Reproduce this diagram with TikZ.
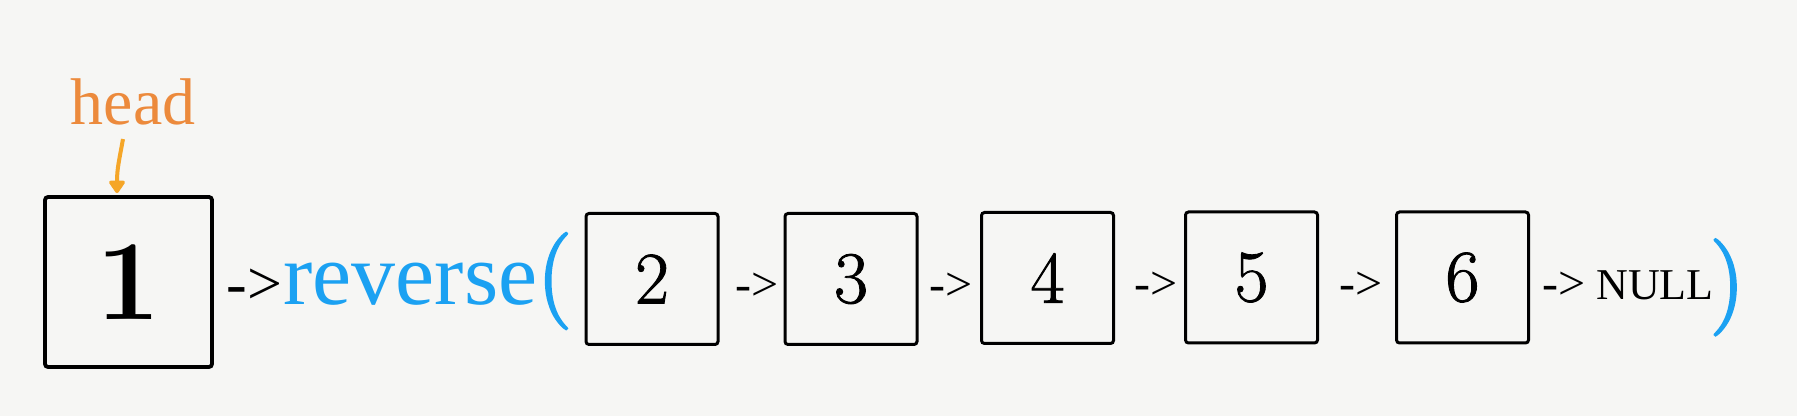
\documentclass[tikz,border=0pt]{standalone}
\usepackage{fontspec}
\newfontfamily\libserif{Liberation Serif}
\newfontfamily\digitfont{Latin Modern Roman}[FakeBold=1.2]
\newfontfamily\parenfont{Latin Modern Roman}[FakeBold=2.5]
\usetikzlibrary{positioning,arrows.meta}
\definecolor{headorange}{HTML}{EC8A3C}
\definecolor{pointerorange}{HTML}{F5A628}
\definecolor{callblue}{HTML}{1BA1F2}
\definecolor{paper}{HTML}{F6F6F4}
\begin{document}
\begin{tikzpicture}[
x=0.5pt,y=-0.5pt,
every node/.style={inner sep=0pt},
listnode/.style={draw,line width=1.5pt,rounded corners=1.5pt,minimum width=66pt,minimum height=65.5pt,font=\digitfont\fontsize{37}{37}\selectfont},
headnode/.style={listnode,line width=1.9pt,minimum width=83.5pt,minimum height=85pt,font=\fontsize{57}{57}\selectfont\bfseries},
nextarrow/.style={font=\libserif\fontsize{24}{24}\selectfont}
]
\fill[paper] (0,0) rectangle (1797,416);
\useasboundingbox (0,0) rectangle (1797,416);
% the head pointer
\node[headnode] (b1) at (128.5,282) {1};
\node[font=\libserif\fontsize{33}{33}\selectfont,text=headorange,anchor=base] (headlabel) at (133,125) {head};
\draw[pointerorange,line width=2pt,-{Triangle[length=7pt,width=9pt,round]}]
    ([xshift=-5pt,yshift=-6.5pt]headlabel.south) .. controls +(-4,22) and +(0,-24) .. ([xshift=-5.75pt,yshift=1pt]b1.north);
% call on the rest of the list
\node[font=\libserif\fontsize{44}{44}\selectfont,text=callblue,anchor=base west] (rev) at (283,305) {reverse{\parenfont\fontsize{48}{48}\selectfont(}};
\node[font=\libserif\fontsize{31}{31}\selectfont,anchor=base east] (a1) at (rev.base west) {->};
\node[listnode] (b2) at (652,279) {2};
\node[nextarrow,right=8pt of b2,yshift=-4pt] (a2) {->};
\node[listnode] (b3) at (851,279) {3};
\node[nextarrow,right=5.5pt of b3,yshift=-4pt] (a3) {->};
\node[listnode] (b4) at (1047.5,278) {4};
\node[nextarrow,right=9.5pt of b4,yshift=-4pt] (a4) {->};
\node[listnode] (b5) at (1251.5,277.5) {5};
\node[nextarrow,right=10pt of b5,yshift=-4pt] (a5) {->};
\node[listnode] (b6) at (1462.5,277.5) {6};
\node[nextarrow,right=6pt of b6,yshift=-4pt] (a6) {->};
\node[font=\libserif\fontsize{22}{22}\selectfont,anchor=base west] (null) at ([xshift=5pt]a6.base east) {NULL};
\node[font=\parenfont\fontsize{48}{48}\selectfont,text=callblue,anchor=base west] (close) at ([xshift=-2pt,yshift=-6pt]null.base east) {)};
\end{tikzpicture}
\end{document}
